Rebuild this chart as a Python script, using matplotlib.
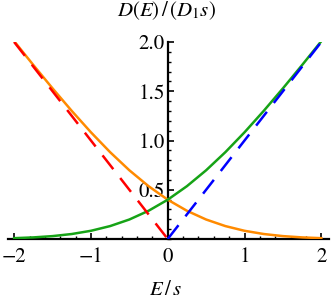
import matplotlib
matplotlib.use("Agg")
from matplotlib import pyplot as plt
from matplotlib.ticker import MultipleLocator, FixedLocator

plt.rcParams['font.family'] = ['STIXGeneral', 'DejaVu Serif']
plt.rcParams['mathtext.fontset'] = 'stix'

# ---------------------------------------------------------------------------
#   values
# ---------------------------------------------------------------------------
energy = [-2.0, -1.75, -1.5, -1.25, -1.0, -0.75, -0.5, -0.25, 0.0,
          0.25, 0.5, 0.75, 1.0, 1.25, 1.5, 1.75, 2.0]
d_green = [0.0085, 0.0162, 0.0293, 0.0506, 0.0833, 0.1312, 0.1978, 0.2864, 0.3989,
           0.5364, 0.6978, 0.8812, 1.0833, 1.3006, 1.5293, 1.7662, 2.0085]
d_orange = [2.0085, 1.7662, 1.5293, 1.3006, 1.0833, 0.8812, 0.6978, 0.5364, 0.3989,
            0.2864, 0.1978, 0.1312, 0.0833, 0.0506, 0.0293, 0.0162, 0.0085]
red_x = [-2.0, 0.0]
red_y = [2.0, 0.0]
blue_x = [0.0, 2.0]
blue_y = [0.0, 2.0]

x_ticks = [-2, -1, 0, 1, 2]
x_labels = ['\u22122', '\u22121', '0', '1', '2']
y_ticks = [0.5, 1.0, 1.5, 2.0]
y_labels = ['0.5', '1.0', '1.5', '2.0']

fig = plt.figure(figsize=(3.32, 3.01), dpi=100)
ax = fig.add_axes([8 / 332, 62 / 301, 321 / 332, 197 / 301])

ax.plot(energy, d_orange, color='#ff8a00', lw=1.8, zorder=3)
ax.plot(energy, d_green, color='#16a316', lw=1.8, zorder=3)
ax.plot(red_x, red_y, color='#ff0000', lw=1.8, dashes=(7, 4.5), zorder=4)
ax.plot(blue_x, blue_y, color='#0000ff', lw=1.8, dashes=(7, 4.5), zorder=4)

ax.set_xlim(-2.08, 2.1)
ax.set_ylim(0, 2.0)

# axes crossing at the origin
for side in ['top', 'right']:
    ax.spines[side].set_visible(False)
ax.spines['left'].set_position(('data', 0))
ax.spines['bottom'].set_position(('data', 0))
ax.spines['left'].set_linewidth(1.6)
ax.spines['bottom'].set_linewidth(1.6)

ax.xaxis.set_major_locator(FixedLocator(x_ticks))
ax.set_xticklabels(x_labels)
ax.xaxis.set_minor_locator(MultipleLocator(0.2))
ax.yaxis.set_major_locator(FixedLocator(y_ticks))
ax.set_yticklabels(y_labels)
ax.yaxis.set_minor_locator(MultipleLocator(0.1))

ax.tick_params(which='major', direction='in', length=4, width=1.2, labelsize=15)
ax.tick_params(which='minor', direction='in', length=2.5, width=1.0)
ax.tick_params(axis='x', which='major', pad=6)
ax.tick_params(axis='y', which='major', pad=2)

fig.text(0.5, 1 - 11 / 301, r'$D(E)\,/\,(D_1 s)$', ha='center', va='center', fontsize=15)
fig.text(0.5, 11 / 301, r'$E\,/\,s$', ha='center', va='center', fontsize=15)

plt.savefig('out.png', dpi=100)
